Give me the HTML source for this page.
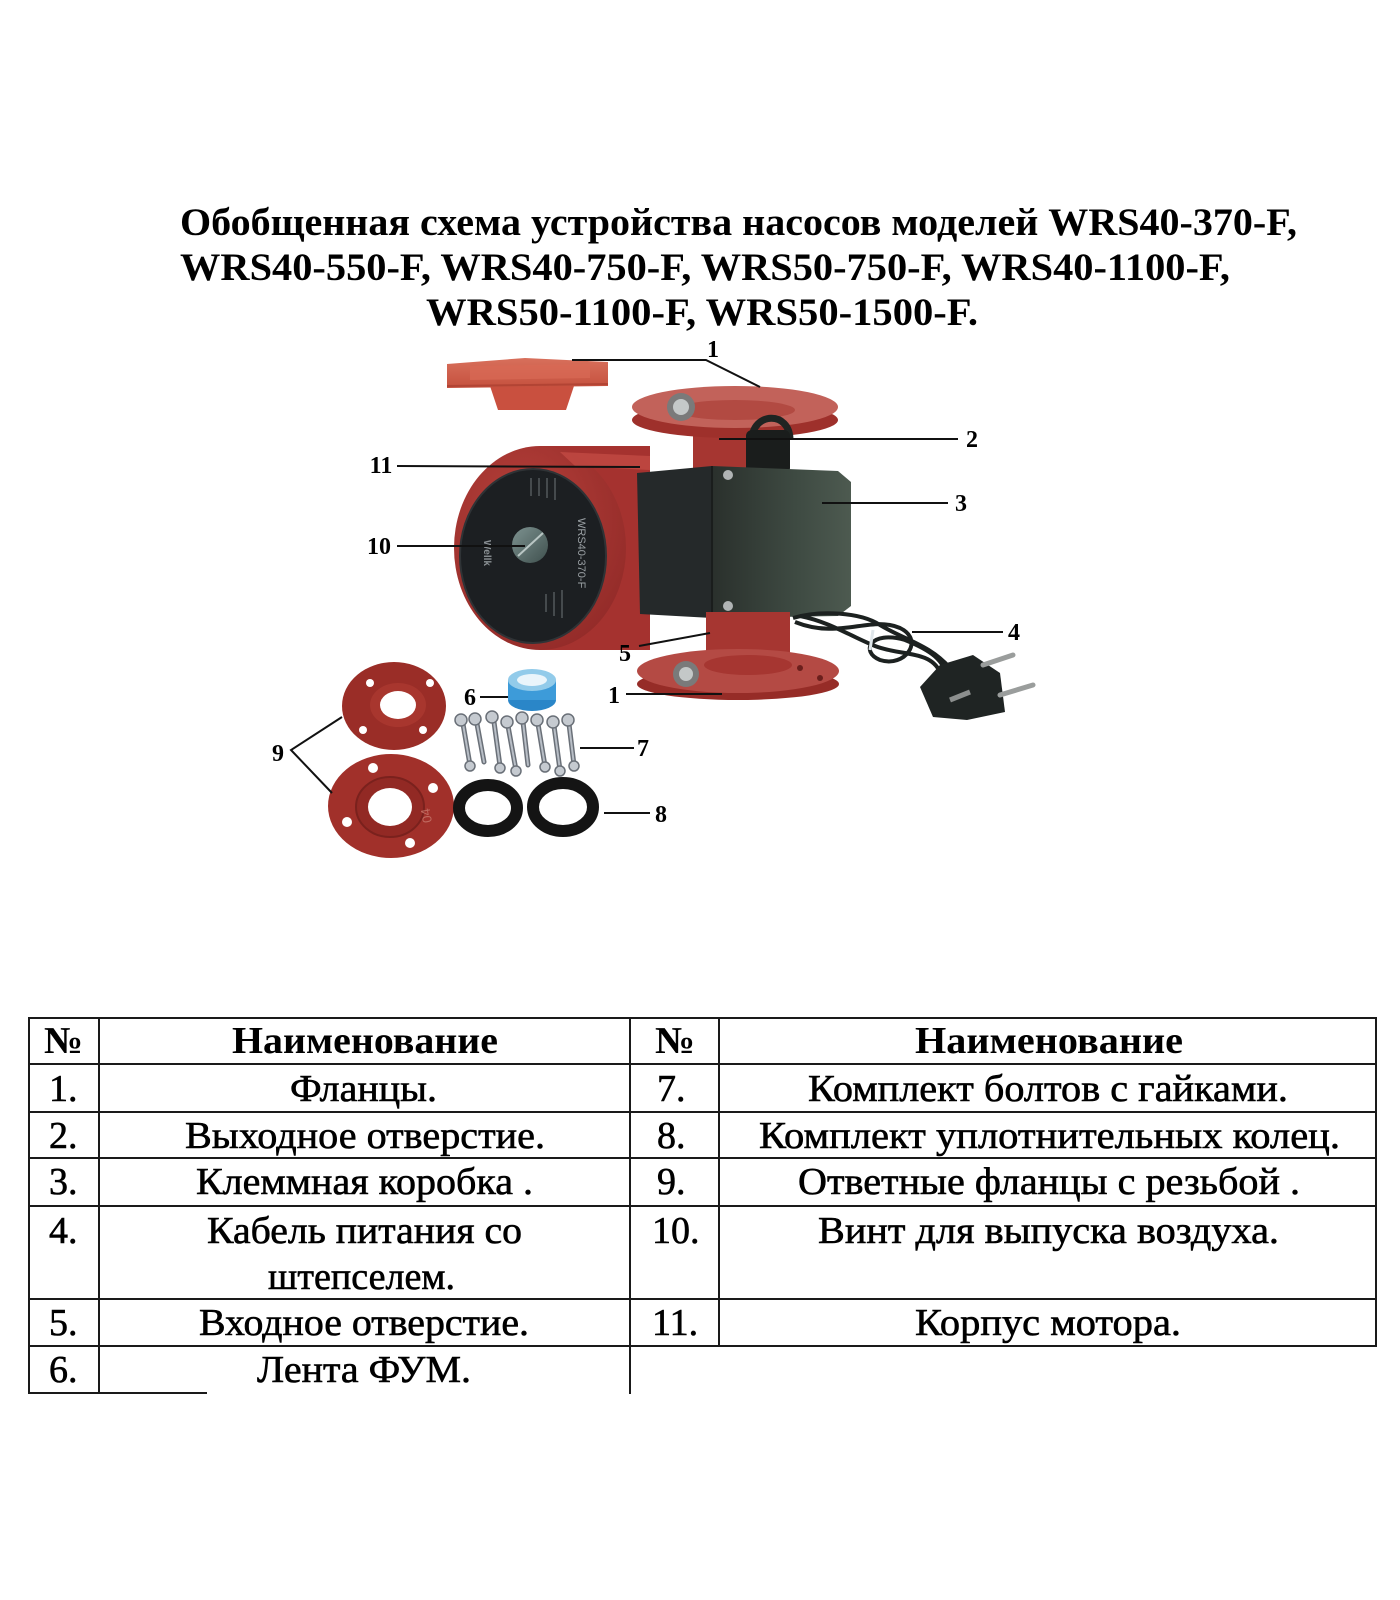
<!DOCTYPE html>
<html>
<head>
<meta charset="utf-8">
<style>
  html,body{margin:0;padding:0;background:#fff;}
  svg{display:block;}
  .t{font-family:"Liberation Serif","DejaVu Serif",serif;fill:#000;}
  .b{font-weight:bold;}
  .r{stroke:#000;stroke-width:0.6;}
</style>
</head>
<body>
<svg width="1400" height="1600" viewBox="0 0 1400 1600" xmlns="http://www.w3.org/2000/svg">
  <defs>
    <linearGradient id="boxg" x1="0" y1="0" x2="1" y2="0">
      <stop offset="0" stop-color="#2a302c"/>
      <stop offset="0.6" stop-color="#3e4a42"/>
      <stop offset="1" stop-color="#4d5a50"/>
    </linearGradient>
    <radialGradient id="redg" cx="0.4" cy="0.35" r="0.8">
      <stop offset="0" stop-color="#b8413b"/>
      <stop offset="1" stop-color="#8e2826"/>
    </radialGradient>
    <linearGradient id="plateg" x1="0" y1="0" x2="0" y2="1">
      <stop offset="0" stop-color="#d8705c"/>
      <stop offset="1" stop-color="#c5503e"/>
    </linearGradient>
    <linearGradient id="scrg" x1="0" y1="0" x2="1" y2="1">
      <stop offset="0" stop-color="#7d9290"/>
      <stop offset="1" stop-color="#3f504e"/>
    </linearGradient>
  </defs>

  <rect width="1400" height="1600" fill="#fff"/>

  <!-- TITLE -->
  <text class="t b" x="180" y="235" font-size="39" textLength="1117" lengthAdjust="spacingAndGlyphs">Обобщенная схема устройства насосов моделей WRS40-370-F,</text>
  <text class="t b" x="180" y="280" font-size="39" textLength="1050" lengthAdjust="spacingAndGlyphs">WRS40-550-F, WRS40-750-F, WRS50-750-F, WRS40-1100-F,</text>
  <text class="t b" x="426" y="325" font-size="39" textLength="552" lengthAdjust="spacingAndGlyphs">WRS50-1100-F, WRS50-1500-F.</text>

  <!-- ============ PUMP ILLUSTRATION ============ -->
  <!-- loose top flange (1) -->
  <polygon points="490,386 574,386 566,410 498,410" fill="#c9503f"/>
  <polygon points="447,364 525,358 608,362 608,386 447,388" fill="url(#plateg)"/>
  <polygon points="470,366 590,364 590,378 470,380" fill="#d86a56" opacity="0.7"/>
  <line x1="447" y1="386" x2="608" y2="384" stroke="#b24434" stroke-width="2"/>

  <!-- top pipe -->
  <rect x="693" y="420" width="93" height="55" fill="#a63631"/>
  <!-- pump top flange -->
  <ellipse cx="735" cy="420" rx="103" ry="18" fill="#9e302b"/>
  <ellipse cx="735" cy="407" rx="103" ry="21" fill="#c2625a"/>
  <ellipse cx="735" cy="410" rx="60" ry="10" fill="#b24a42"/>
  <circle cx="681" cy="407" r="14" fill="#7a7a7a"/>
  <circle cx="681" cy="407" r="8" fill="#c4c8c8"/>

  <!-- motor housing -->
  <rect x="540" y="446" width="110" height="204" fill="#a5322f"/>
  <ellipse cx="540" cy="548" rx="86" ry="102" fill="url(#redg)"/>
  <path d="M560,452 L650,456 L650,470 L575,466 Z" fill="#c24a44" opacity="0.8"/>
  <!-- black face -->
  <ellipse cx="533" cy="556" rx="73" ry="87" fill="#1c1f22"/>
  <ellipse cx="533" cy="556" rx="73" ry="87" fill="none" stroke="#2f3336" stroke-width="2"/>
  <!-- face text -->
  <text x="0" y="0" transform="translate(578,518) rotate(90)" font-family="Liberation Sans, sans-serif" font-size="11" fill="#9aa0a4">WRS40-370-F</text>
  <text x="0" y="0" transform="translate(484,540) rotate(90)" font-family="Liberation Sans, sans-serif" font-size="10" font-weight="bold" fill="#8a9094">Wellk</text>
  <g stroke="#6e7478" stroke-width="1">
    <line x1="555" y1="478" x2="555" y2="500"/>
    <line x1="547" y1="478" x2="547" y2="498"/>
    <line x1="539" y1="478" x2="539" y2="496"/>
    <line x1="531" y1="478" x2="531" y2="496"/>
    <line x1="562" y1="590" x2="562" y2="618"/>
    <line x1="554" y1="592" x2="554" y2="616"/>
    <line x1="546" y1="594" x2="546" y2="612"/>
  </g>
  <!-- air screw -->
  <circle cx="530" cy="545" r="18" fill="url(#scrg)"/>
  <line x1="518" y1="556" x2="543" y2="533" stroke="#b9c6c4" stroke-width="2"/>

  <!-- cable gland -->
  <path d="M752,440 C752,412 790,410 790,440" fill="none" stroke="#1f2422" stroke-width="7"/>
  <rect x="746" y="430" width="44" height="44" rx="6" fill="#1a1d1c"/>

  <!-- terminal box -->
  <polygon points="637,473 712,466 712,618 640,614" fill="#25292a"/>
  <polygon points="712,466 838,471 851,482 851,606 838,616 712,618" fill="url(#boxg)"/>
  <line x1="712" y1="466" x2="712" y2="618" stroke="#1a1d1c" stroke-width="2"/>
  <circle cx="728" cy="475" r="5" fill="#b0b4b4"/>
  <circle cx="728" cy="606" r="5" fill="#b0b4b4"/>

  <!-- bottom pipe -->
  <rect x="706" y="612" width="84" height="55" fill="#a63631"/>
  <!-- bottom flange -->
  <ellipse cx="738" cy="684" rx="101" ry="16" fill="#962c27"/>
  <ellipse cx="738" cy="671" rx="101" ry="22" fill="#b44a44"/>
  <ellipse cx="748" cy="665" rx="44" ry="10" fill="#a63631"/>
  <circle cx="686" cy="674" r="13" fill="#7a7a7a"/>
  <circle cx="686" cy="674" r="7" fill="#c4c8c8"/>
  <circle cx="800" cy="668" r="3" fill="#6b1f1c"/>
  <circle cx="820" cy="678" r="3" fill="#6b1f1c"/>

  <!-- cable -->
  <g fill="none" stroke="#1c2120" stroke-width="4">
    <path d="M793,618 C820,610 860,612 880,625 C905,640 930,645 950,668"/>
    <path d="M795,622 C840,640 870,615 900,628 C925,640 905,668 880,660 C860,652 870,630 905,640 C930,650 945,660 948,680"/>
    <path d="M800,616 C830,622 850,636 875,646 C900,656 930,650 940,672"/>
  </g>
  <path d="M873,630 L870,650" stroke="#dfe6ea" stroke-width="3"/>
  <!-- plug -->
  <polygon points="920,687 940,665 973,655 1000,673 1005,712 967,720 933,717" fill="#1f2423"/>
  <line x1="983" y1="665" x2="1013" y2="655" stroke="#9a9d9c" stroke-width="5" stroke-linecap="round"/>
  <line x1="1000" y1="695" x2="1033" y2="685" stroke="#9a9d9c" stroke-width="5" stroke-linecap="round"/>
  <line x1="950" y1="700" x2="970" y2="692" stroke="#8c8f8e" stroke-width="5"/>

  <!-- loose flanges (9) -->
  <ellipse cx="394" cy="706" rx="52" ry="44" fill="#9a2d27"/>
  <ellipse cx="398" cy="705" rx="28" ry="22" fill="#a8362e"/>
  <ellipse cx="398" cy="705" rx="18" ry="14" fill="#fff"/>
  <circle cx="370" cy="683" r="4" fill="#fff"/>
  <circle cx="430" cy="683" r="4" fill="#fff"/>
  <circle cx="363" cy="730" r="4" fill="#fff"/>
  <circle cx="423" cy="730" r="4" fill="#fff"/>

  <ellipse cx="391" cy="806" rx="63" ry="52" fill="#a1302a"/>
  <ellipse cx="390" cy="807" rx="34" ry="30" fill="#922924" stroke="#7a211d" stroke-width="2"/>
  <ellipse cx="390" cy="807" rx="22" ry="19" fill="#fff"/>
  <circle cx="373" cy="768" r="5" fill="#fff"/>
  <circle cx="433" cy="788" r="5" fill="#fff"/>
  <circle cx="347" cy="822" r="5" fill="#fff"/>
  <circle cx="410" cy="843" r="5" fill="#fff"/>
  <text x="0" y="0" transform="translate(432,822) rotate(-100)" font-family="Liberation Sans, sans-serif" font-size="13" fill="#c06a60">04</text>

  <!-- PTFE tape (6) -->
  <ellipse cx="532" cy="700" rx="24" ry="11" fill="#2a86c8"/>
  <rect x="508" y="680" width="48" height="20" fill="#3d9bd9"/>
  <ellipse cx="532" cy="680" rx="24" ry="11" fill="#92cbea"/>
  <ellipse cx="532" cy="680" rx="15" ry="6" fill="#eaf5fb"/>

  <!-- bolts (7) -->
  <g stroke="#6a7078" stroke-width="5" stroke-linecap="round">
    <line x1="463" y1="724" x2="470" y2="765"/>
    <line x1="477" y1="724" x2="484" y2="762"/>
    <line x1="494" y1="722" x2="500" y2="766"/>
    <line x1="508" y1="726" x2="516" y2="770"/>
    <line x1="523" y1="722" x2="528" y2="765"/>
    <line x1="538" y1="724" x2="545" y2="766"/>
    <line x1="554" y1="726" x2="560" y2="770"/>
    <line x1="569" y1="724" x2="574" y2="765"/>
  </g>
  <g stroke="#b8bec6" stroke-width="2" stroke-linecap="round">
    <line x1="463" y1="724" x2="470" y2="765"/>
    <line x1="477" y1="724" x2="484" y2="762"/>
    <line x1="494" y1="722" x2="500" y2="766"/>
    <line x1="508" y1="726" x2="516" y2="770"/>
    <line x1="523" y1="722" x2="528" y2="765"/>
    <line x1="538" y1="724" x2="545" y2="766"/>
    <line x1="554" y1="726" x2="560" y2="770"/>
    <line x1="569" y1="724" x2="574" y2="765"/>
  </g>
  <g fill="#c5cad0" stroke="#6a7078" stroke-width="1.5">
    <circle cx="461" cy="720" r="6"/>
    <circle cx="475" cy="719" r="6"/>
    <circle cx="492" cy="717" r="6"/>
    <circle cx="507" cy="722" r="6"/>
    <circle cx="522" cy="718" r="6"/>
    <circle cx="537" cy="720" r="6"/>
    <circle cx="553" cy="722" r="6"/>
    <circle cx="568" cy="720" r="6"/>
    <circle cx="470" cy="766" r="5"/>
    <circle cx="500" cy="768" r="5"/>
    <circle cx="516" cy="771" r="5"/>
    <circle cx="545" cy="767" r="5"/>
    <circle cx="560" cy="771" r="5"/>
    <circle cx="574" cy="766" r="5"/>
  </g>

  <!-- gaskets (8) -->
  <ellipse cx="488" cy="808" rx="29" ry="23" fill="none" stroke="#141414" stroke-width="12"/>
  <ellipse cx="563" cy="807" rx="30" ry="24" fill="none" stroke="#141414" stroke-width="12"/>

  <!-- leader lines -->
  <g stroke="#111" stroke-width="2" fill="none">
    <polyline points="572,360 706,360 760,387"/>
    <line x1="719" y1="439" x2="958" y2="439"/>
    <line x1="822" y1="503" x2="948" y2="503"/>
    <line x1="912" y1="632" x2="1003" y2="632"/>
    <line x1="639" y1="646" x2="710" y2="633"/>
    <line x1="626" y1="694" x2="722" y2="694"/>
    <line x1="397" y1="466" x2="640" y2="467"/>
    <line x1="397" y1="546" x2="525" y2="546"/>
    <line x1="480" y1="697" x2="508" y2="697"/>
    <line x1="580" y1="748" x2="634" y2="748"/>
    <line x1="604" y1="813" x2="650" y2="813"/>
    <polyline points="342,717 291,750 332,793"/>
  </g>

  <!-- callout numbers -->
  <g class="t b" font-size="24" text-anchor="middle">
    <text x="713" y="357">1</text>
    <text x="972" y="447">2</text>
    <text x="961" y="511">3</text>
    <text x="1014" y="640">4</text>
    <text x="625" y="661">5</text>
    <text x="614" y="703">1</text>
    <text x="381" y="473">11</text>
    <text x="379" y="554">10</text>
    <text x="470" y="705">6</text>
    <text x="643" y="756">7</text>
    <text x="661" y="822">8</text>
    <text x="278" y="761">9</text>
  </g>

  <!-- ============ TABLE ============ -->
  <g stroke="#1a1a1a" stroke-width="2" fill="none">
    <line x1="28" y1="1018" x2="1377" y2="1018"/>
    <line x1="28" y1="1064" x2="1377" y2="1064"/>
    <line x1="28" y1="1112" x2="1377" y2="1112"/>
    <line x1="28" y1="1158" x2="1377" y2="1158"/>
    <line x1="28" y1="1206" x2="1377" y2="1206"/>
    <line x1="28" y1="1299" x2="1377" y2="1299"/>
    <line x1="28" y1="1346" x2="1377" y2="1346"/>
    <line x1="28" y1="1393" x2="207" y2="1393"/>
    <line x1="29" y1="1017" x2="29" y2="1394"/>
    <line x1="99" y1="1017" x2="99" y2="1394"/>
    <line x1="630" y1="1017" x2="630" y2="1394"/>
    <line x1="719" y1="1017" x2="719" y2="1347"/>
    <line x1="1376" y1="1017" x2="1376" y2="1347"/>
  </g>

  <!-- header -->
  <text class="t b" x="44" y="1053" font-size="38" textLength="39" lengthAdjust="spacingAndGlyphs">№</text>
  <text class="t b" x="232" y="1053" font-size="38" textLength="266" lengthAdjust="spacingAndGlyphs">Наименование</text>
  <text class="t b" x="655" y="1053" font-size="38" textLength="40" lengthAdjust="spacingAndGlyphs">№</text>
  <text class="t b" x="915" y="1053" font-size="38" textLength="268" lengthAdjust="spacingAndGlyphs">Наименование</text>

  <!-- numbers -->
  <g class="t r" font-size="38">
    <text x="49" y="1101">1.</text>
    <text x="49" y="1148">2.</text>
    <text x="49" y="1194">3.</text>
    <text x="49" y="1243">4.</text>
    <text x="49" y="1335">5.</text>
    <text x="49" y="1382">6.</text>
    <text x="657" y="1101">7.</text>
    <text x="657" y="1148">8.</text>
    <text x="657" y="1194">9.</text>
    <text x="652" y="1243">10.</text>
    <text x="652" y="1335">11.</text>
  </g>

  <!-- names -->
  <g class="t r" font-size="38">
    <text x="290" y="1101" textLength="147" lengthAdjust="spacingAndGlyphs">Фланцы.</text>
    <text x="185" y="1148" textLength="360" lengthAdjust="spacingAndGlyphs">Выходное отверстие.</text>
    <text x="196" y="1194" textLength="337" lengthAdjust="spacingAndGlyphs">Клеммная коробка .</text>
    <text x="207" y="1243" textLength="315" lengthAdjust="spacingAndGlyphs">Кабель питания со</text>
    <text x="268" y="1289" textLength="187" lengthAdjust="spacingAndGlyphs">штепселем.</text>
    <text x="199" y="1335" textLength="330" lengthAdjust="spacingAndGlyphs">Входное отверстие.</text>
    <text x="257" y="1382" textLength="214" lengthAdjust="spacingAndGlyphs">Лента ФУМ.</text>

    <text x="808" y="1101" textLength="480" lengthAdjust="spacingAndGlyphs">Комплект болтов с гайками.</text>
    <text x="759" y="1148" textLength="581" lengthAdjust="spacingAndGlyphs">Комплект уплотнительных колец.</text>
    <text x="798" y="1194" textLength="502" lengthAdjust="spacingAndGlyphs">Ответные фланцы с резьбой .</text>
    <text x="818" y="1243" textLength="461" lengthAdjust="spacingAndGlyphs">Винт для выпуска воздуха.</text>
    <text x="915" y="1335" textLength="266" lengthAdjust="spacingAndGlyphs">Корпус мотора.</text>
  </g>
</svg>
</body>
</html>
